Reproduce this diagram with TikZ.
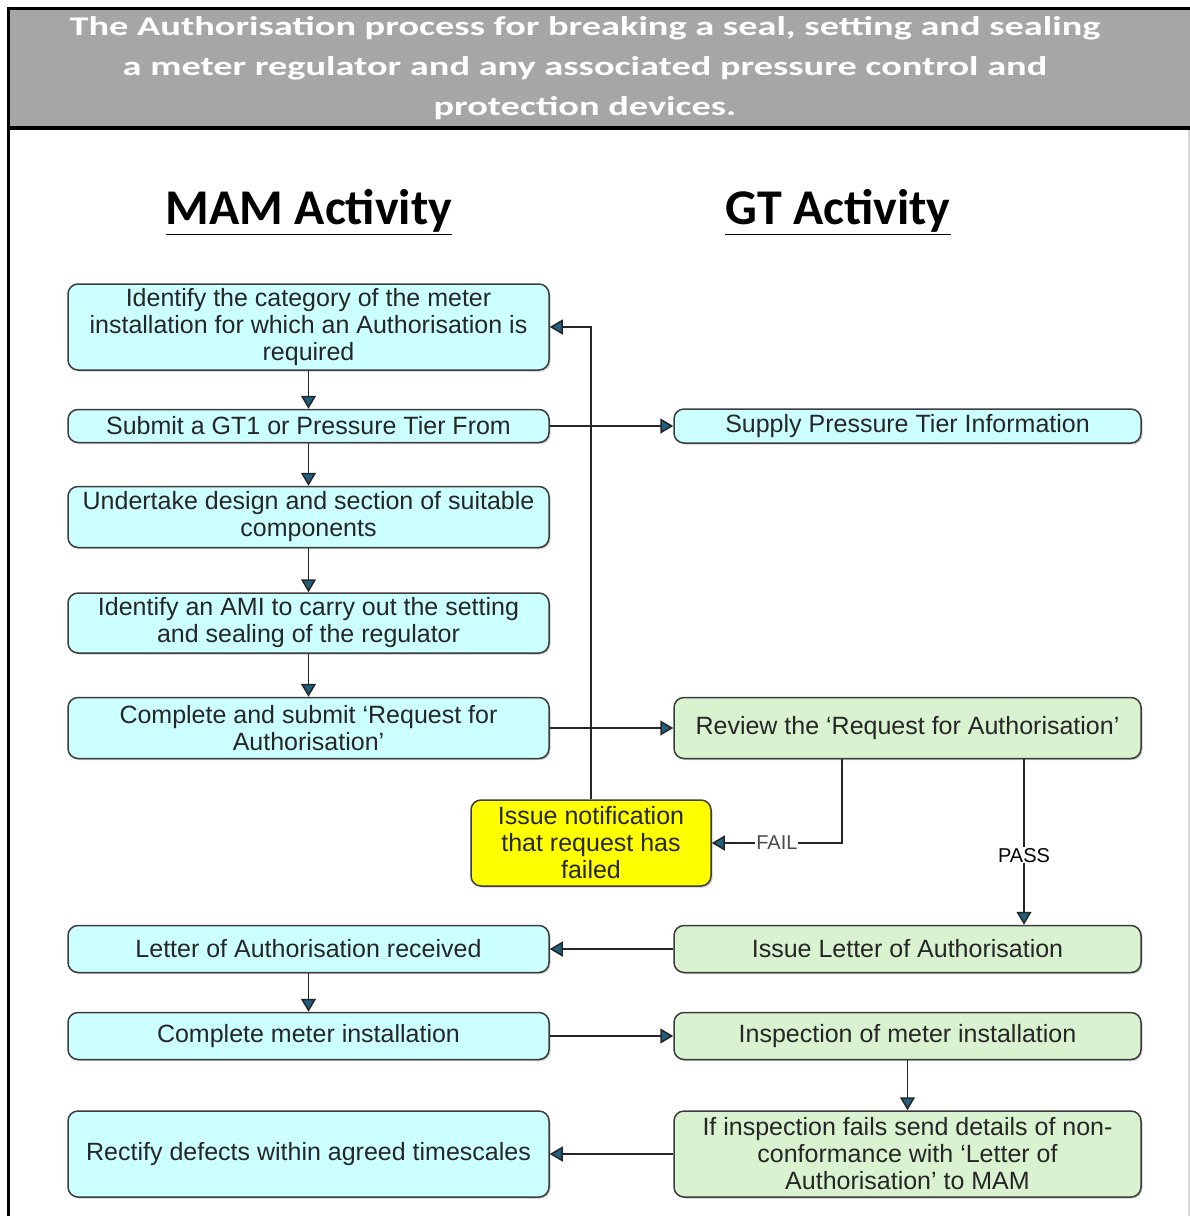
\documentclass[tikz,border=0pt]{standalone}
\usepackage{fontspec}
\setmainfont{Liberation Sans}
\newfontfamily\headfont{Carlito}
\newfontfamily\titlefont[FakeStretch=1.42]{Carlito}
\usetikzlibrary{arrows.meta,shadows}

\definecolor{mamcyan}{HTML}{CCFFFF}
\definecolor{gtgreen}{HTML}{D9F2D0}
\definecolor{failyellow}{HTML}{FFFF00}
\definecolor{titlegray}{HTML}{A6A6A6}
\definecolor{boxline}{HTML}{3C3C3C}
\definecolor{tipblue}{HTML}{1F5F80}

\tikzset{
    mambox/.style={draw=boxline, line width=1.5pt, rounded corners=10pt, fill=mamcyan,
        minimum width=481pt, align=center, text=black!85, inner sep=2pt,
        font=\fontsize{25}{27}\selectfont,
        drop shadow={shadow xshift=1.5pt, shadow yshift=-1.5pt, fill=black!40, opacity=0.5}},
    gtbox/.style={mambox, fill=gtgreen, minimum width=467pt},
    flow/.style={line width=1.5pt, draw=black!85, -{Triangle[width=15pt,length=13pt,fill=tipblue]}},
    flowlabel/.style={fill=white, inner sep=1pt, font=\fontsize{20}{22}\selectfont},
}

\begin{document}
\begin{tikzpicture}[x=1pt, y=-1pt]
    \useasboundingbox (0,0) rectangle (1190,1216);

    % Frame and title
    \fill[titlegray] (8,8) rectangle (1190,128);
    \draw[line width=3pt] (1190,8) -- (8,8) -- (8,1216);
    \draw[line width=4pt] (8,128) -- (1190,128);
    \draw[black!15, line width=1.5pt] (1189,130) -- (1189,1216);
    \node[text=white, align=center, font=\titlefont\bfseries\fontsize{27}{40}\selectfont] (title) at (585,68)
        {The Authorisation process for breaking a seal, setting and sealing\\
         a meter regulator and any associated pressure control and\\
         protection devices.};

    % Column headings
    \node[font=\headfont\bfseries\fontsize{50}{54}\selectfont] (mamhead) at (309,212) {\underline{MAM Activity}};
    \node[font=\headfont\bfseries\fontsize{50}{54}\selectfont] (gthead) at (838,212) {\underline{GT Activity}};

    % MAM activity
    \node[mambox, minimum height=86pt] (identify) at (308.5,327)
        {Identify the category of the meter\\installation for which an Authorisation is\\required};
    \node[mambox, minimum height=33pt] (submit) at (308.5,426) {Submit a GT1 or Pressure Tier From};
    \node[mambox, minimum height=61pt] (design) at (308.5,517) {Undertake design and section of suitable\\components};
    \node[mambox, minimum height=60pt] (ami) at (308.5,623) {Identify an AMI to carry out the setting\\and sealing of the regulator};
    \node[mambox, minimum height=61pt] (request) at (308.5,728) {Complete and submit ‘Request for\\Authorisation’};
    \node[mambox, minimum height=47pt] (received) at (308.5,949) {Letter of Authorisation received};
    \node[mambox, minimum height=47pt] (install) at (308.5,1036) {Complete meter installation};
    \node[mambox, minimum height=86pt] (rectify) at (308.5,1154) {Rectify defects within agreed timescales};

    % GT activity
    \node[mambox, minimum width=467pt, minimum height=34pt] (supply) at (907.5,426) {Supply Pressure Tier Information};
    \node[gtbox, minimum height=61pt] (review) at (907.5,728) {Review the ‘Request for Authorisation’};
    \node[gtbox, minimum height=47pt] (issue) at (907.5,949) {Issue Letter of Authorisation};
    \node[gtbox, minimum height=47pt] (inspect) at (907.5,1036) {Inspection of meter installation};
    \node[gtbox, minimum height=86pt] (nonconf) at (907.5,1154)
        {If inspection fails send details of non-\\conformance with ‘Letter of\\Authorisation’ to MAM};

    \node[mambox, fill=failyellow, minimum width=240pt, minimum height=86pt] (failed) at (591,843)
        {Issue notification\\that request has\\failed};

    % Connectors
    \draw[flow] (identify) -- (submit);
    \draw[flow] (submit) -- (design);
    \draw[flow] (design) -- (ami);
    \draw[flow] (ami) -- (request);
    \draw[flow] (submit) -- (supply);
    \draw[flow] (request) -- (review);
    \draw[flow] (failed.north) |- (identify.east);
    \draw[flow] ([xshift=-65.5pt]review.south) |- (failed.east)
        node[flowlabel, text=black!70, pos=0.75] {FAIL};
    \draw[flow] ([xshift=116.5pt]review.south) -- ([xshift=116.5pt]issue.north)
        node[flowlabel, pos=0.58] {PASS};
    \draw[flow] (issue) -- (received);
    \draw[flow] (received) -- (install);
    \draw[flow] (install) -- (inspect);
    \draw[flow] (inspect) -- (nonconf);
    \draw[flow] (nonconf) -- (rectify);
\end{tikzpicture}
\end{document}
